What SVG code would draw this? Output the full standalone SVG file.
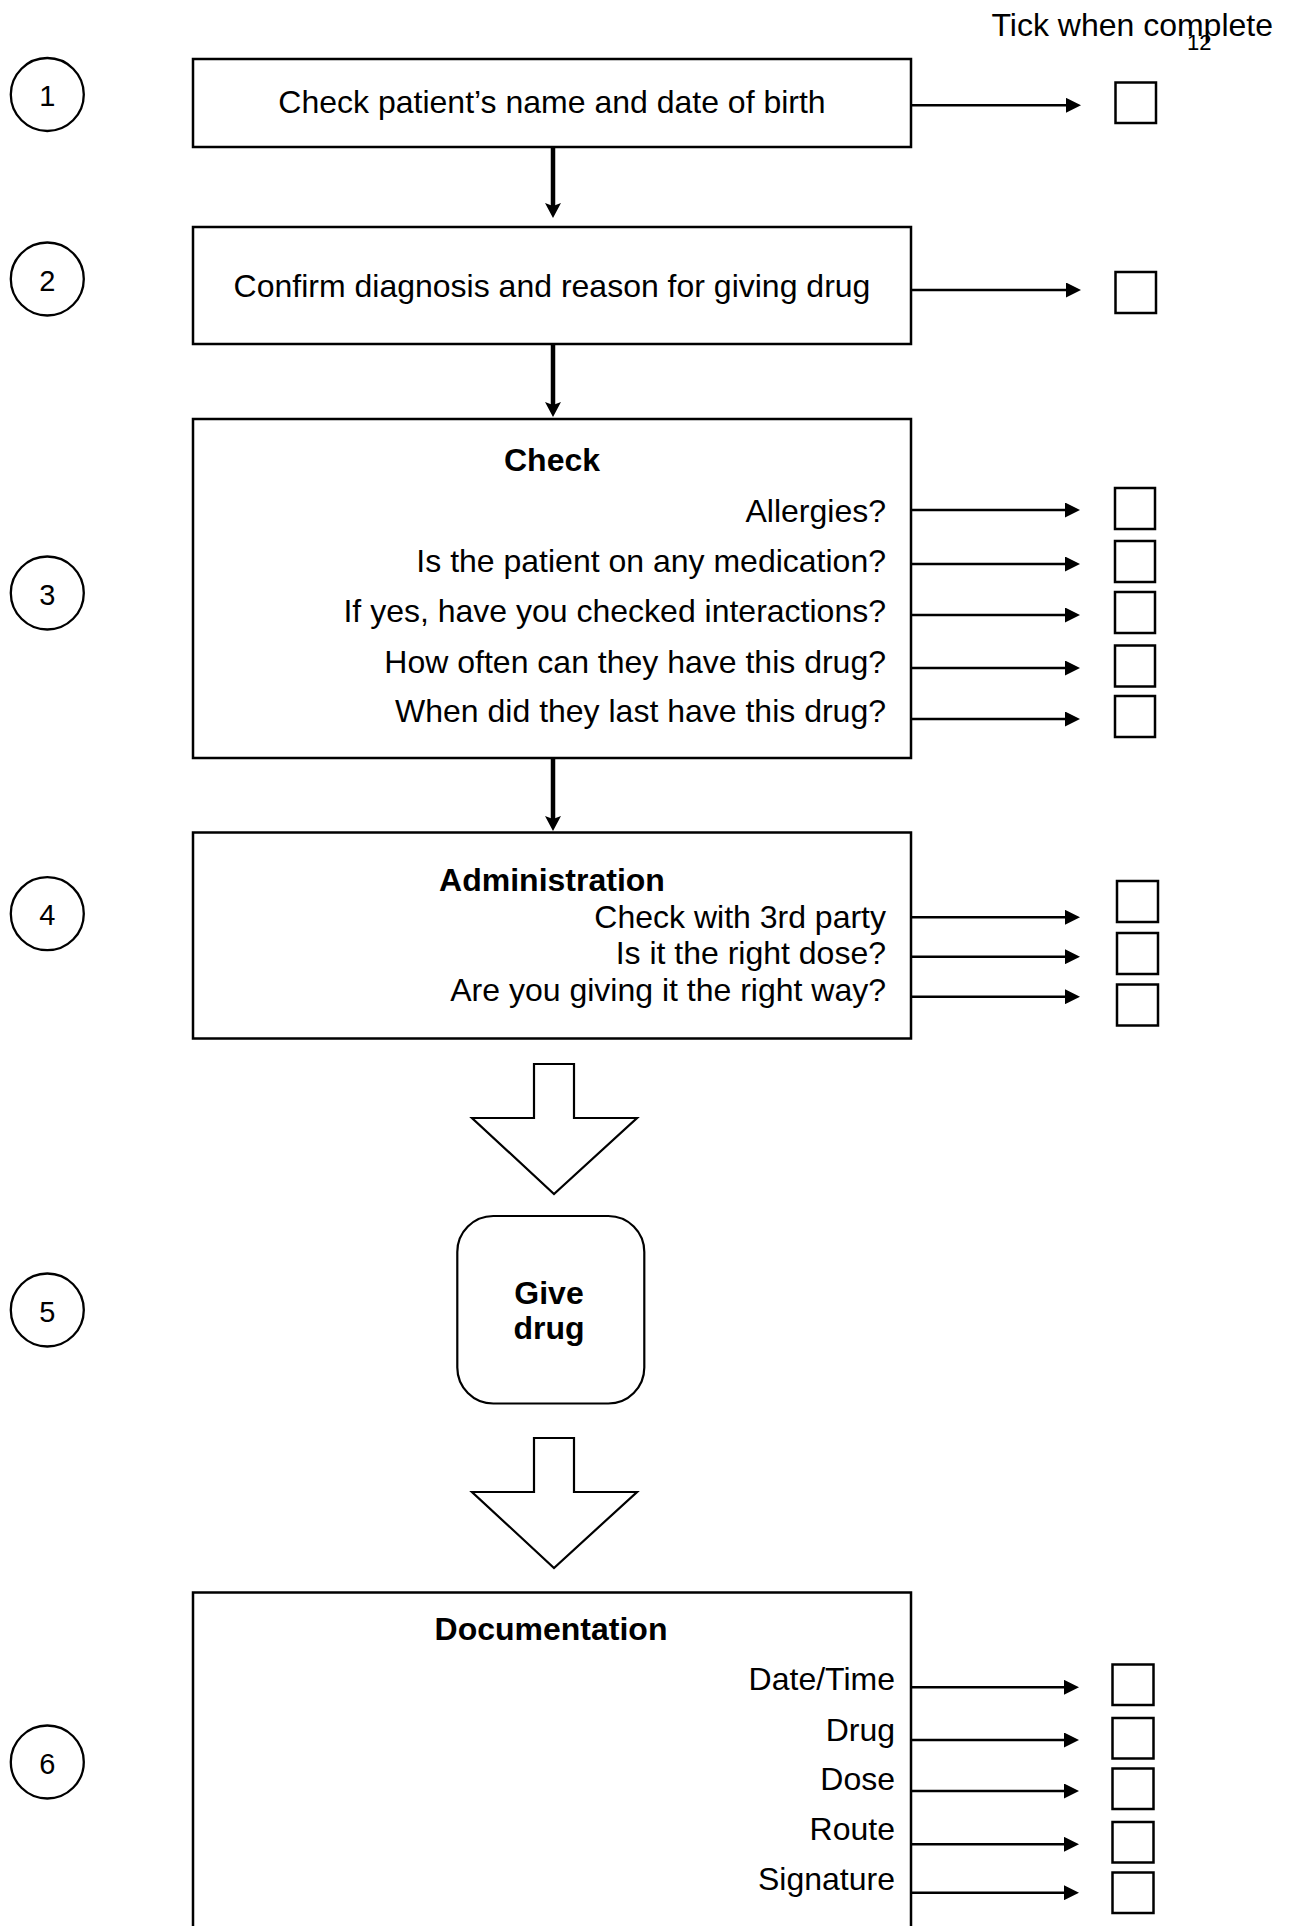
<svg xmlns="http://www.w3.org/2000/svg" width="1294" height="1926" viewBox="0 0 1294 1926">
<style>
text{font-family:"Liberation Sans",Arial,sans-serif;fill:#000}
.t{font-size:32px}
.b{font-size:32px;font-weight:bold}
.c{font-size:29px}
.box{fill:#fff;stroke:#000;stroke-width:2.5}
.cb{fill:#fff;stroke:#000;stroke-width:2.5}
.circ{fill:#fff;stroke:#000;stroke-width:2.3}
.big{fill:#fff;stroke:#000;stroke-width:2.2;stroke-linejoin:miter}
.ra{stroke:#000;stroke-width:2.5;fill:none;marker-end:url(#ah)}
.va{stroke:#000;stroke-width:4.5;fill:none;marker-end:url(#vh)}
</style>
<defs>
<marker id="ah" markerUnits="userSpaceOnUse" viewBox="0 0 15 15" refX="4" refY="7.5" markerWidth="15" markerHeight="15" orient="auto">
<path d="M0,0 L15,7.5 L0,15 z" fill="#000"/>
</marker>
<marker id="vh" markerUnits="userSpaceOnUse" viewBox="0 0 16 16" refX="4" refY="8" markerWidth="16" markerHeight="16" orient="auto">
<path d="M0,0 L15,8 L0,16 L3,8 z" fill="#000"/>
</marker>
</defs>

<text class="t" x="1273" y="36" text-anchor="end">Tick when complete</text>
<text x="1187" y="50" style="font-size:22px">12</text>

<g id="circles">
<g id="c1"><circle class="circ" cx="47.3" cy="94.5" r="36.5"/><text class="c" x="47.3" y="106" text-anchor="middle">1</text></g>
<g id="c2"><circle class="circ" cx="47.3" cy="279" r="36.5"/><text class="c" x="47.3" y="290.5" text-anchor="middle">2</text></g>
<g id="c3"><circle class="circ" cx="47.3" cy="593" r="36.5"/><text class="c" x="47.3" y="604.5" text-anchor="middle">3</text></g>
<g id="c4"><circle class="circ" cx="47.3" cy="913.7" r="36.5"/><text class="c" x="47.3" y="925" text-anchor="middle">4</text></g>
<g id="c5"><circle class="circ" cx="47.3" cy="1310" r="36.5"/><text class="c" x="47.3" y="1321.5" text-anchor="middle">5</text></g>
<g id="c6"><circle class="circ" cx="47.3" cy="1762" r="36.5"/><text class="c" x="47.3" y="1773.5" text-anchor="middle">6</text></g>
</g>

<g id="step1">
<rect class="box" x="193" y="59" width="718" height="88"/>
<text class="t" x="552" y="113" text-anchor="middle">Check patient’s name and date of birth</text>
</g>

<g id="step2">
<rect class="box" x="193" y="227" width="718" height="117"/>
<text class="t" x="552" y="297" text-anchor="middle">Confirm diagnosis and reason for giving drug</text>
</g>

<g id="step3">
<rect class="box" x="193" y="419" width="718" height="339"/>
<text class="b" x="552" y="471" text-anchor="middle">Check</text>
<text class="t" x="886" y="521.5" text-anchor="end">Allergies?</text>
<text class="t" x="886" y="571.5" text-anchor="end">Is the patient on any medication?</text>
<text class="t" x="886" y="621.5" text-anchor="end">If yes, have you checked interactions?</text>
<text class="t" x="886" y="672.5" text-anchor="end">How often can they have this drug?</text>
<text class="t" x="886" y="721.5" text-anchor="end">When did they last have this drug?</text>
</g>

<g id="step4">
<rect class="box" x="193" y="832.5" width="718" height="206"/>
<text class="b" x="552" y="891" text-anchor="middle">Administration</text>
<text class="t" x="886" y="928.3" text-anchor="end">Check with 3rd party</text>
<text class="t" x="886" y="964" text-anchor="end">Is it the right dose?</text>
<text class="t" x="886" y="1001" text-anchor="end">Are you giving it the right way?</text>
</g>

<g id="bigarrow1">
<polygon class="big" points="534,1064 574,1064 574,1118 637,1118 554,1194 472,1118 534,1118"/>
</g>

<g id="step5">
<rect class="box" x="457.3" y="1216" width="187" height="187.5" rx="36" ry="36" style="stroke-width:2.2"/>
<text class="b" x="549" y="1304" text-anchor="middle">Give</text>
<text class="b" x="549" y="1339" text-anchor="middle">drug</text>
</g>

<g id="bigarrow2">
<polygon class="big" points="534,1438 574,1438 574,1492 637,1492 554,1568 472,1492 534,1492"/>
</g>

<g id="step6">
<rect class="box" x="193" y="1592.5" width="718" height="360"/>
<text class="b" x="551" y="1640" text-anchor="middle">Documentation</text>
<text class="t" x="895" y="1690" text-anchor="end">Date/Time</text>
<text class="t" x="895" y="1740.5" text-anchor="end">Drug</text>
<text class="t" x="895" y="1790" text-anchor="end">Dose</text>
<text class="t" x="895" y="1840" text-anchor="end">Route</text>
<text class="t" x="895" y="1890" text-anchor="end">Signature</text>
</g>

<g id="checkboxes">
<rect class="cb" x="1115.5" y="82.5" width="40.5" height="40.5"/>
<rect class="cb" x="1115.5" y="272" width="40.5" height="41"/>
<rect class="cb" x="1115" y="488" width="40" height="41"/>
<rect class="cb" x="1115" y="541" width="40" height="41"/>
<rect class="cb" x="1115" y="592" width="40" height="41"/>
<rect class="cb" x="1115" y="645.5" width="40" height="41"/>
<rect class="cb" x="1115" y="696" width="40" height="41"/>
<rect class="cb" x="1117" y="881" width="41" height="41"/>
<rect class="cb" x="1117" y="933" width="41" height="41"/>
<rect class="cb" x="1117" y="984.5" width="41" height="41"/>
<rect class="cb" x="1112.5" y="1664.5" width="41" height="40.5"/>
<rect class="cb" x="1112.5" y="1718" width="41" height="40.5"/>
<rect class="cb" x="1112.5" y="1768.5" width="41" height="40.5"/>
<rect class="cb" x="1112.5" y="1822" width="41" height="40.5"/>
<rect class="cb" x="1112.5" y="1872.5" width="41" height="40.5"/>
</g>

<g id="connectors">
<line class="va" x1="553" y1="147" x2="553" y2="207"/>
<line class="va" x1="553" y1="344" x2="553" y2="406"/>
<line class="va" x1="553" y1="758" x2="553" y2="820"/>
<line class="ra" x1="911" y1="105.3" x2="1070" y2="105.3"/>
<line class="ra" x1="911" y1="290" x2="1070" y2="290"/>
<line class="ra" x1="911" y1="510" x2="1069" y2="510"/>
<line class="ra" x1="911" y1="564" x2="1069" y2="564"/>
<line class="ra" x1="911" y1="615" x2="1069" y2="615"/>
<line class="ra" x1="911" y1="668" x2="1069" y2="668"/>
<line class="ra" x1="911" y1="719" x2="1069" y2="719"/>
<line class="ra" x1="911" y1="917.3" x2="1069" y2="917.3"/>
<line class="ra" x1="911" y1="956.7" x2="1069" y2="956.7"/>
<line class="ra" x1="911" y1="996.7" x2="1069" y2="996.7"/>
<line class="ra" x1="911" y1="1687.3" x2="1068" y2="1687.3"/>
<line class="ra" x1="911" y1="1740" x2="1068" y2="1740"/>
<line class="ra" x1="911" y1="1791" x2="1068" y2="1791"/>
<line class="ra" x1="911" y1="1844.3" x2="1068" y2="1844.3"/>
<line class="ra" x1="911" y1="1892.7" x2="1068" y2="1892.7"/>
</g>
</svg>
